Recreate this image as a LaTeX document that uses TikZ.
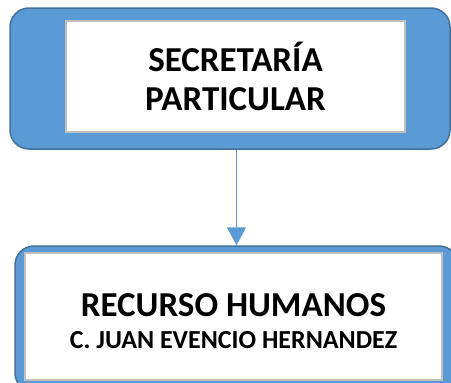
\documentclass[tikz,border=0pt]{standalone}
\usepackage{fontspec}
\setmainfont{Carlito}
\usetikzlibrary{arrows.meta}
\definecolor{boxblue}{HTML}{5B9BD5}
\definecolor{edgeblue}{HTML}{41719C}
\definecolor{framegray}{HTML}{BFBFBF}
\tikzset{
  outerbox/.style={draw=edgeblue, fill=boxblue, line width=1.5pt, rounded corners=19pt, inner sep=0pt},
  innerbox/.style={draw=framegray, fill=white, line width=2.5pt, inner sep=0pt, align=center}
}
\begin{document}
\begin{tikzpicture}[x=1pt,y=-1pt]
  \useasboundingbox (0,0) rectangle (451,383);
  \clip (0,0) rectangle (451,383);

  % Secretaria particular
  \node[outerbox, minimum width=440pt, minimum height=141pt] (sec) at (230,78.5) {};
  \node[innerbox, minimum width=339pt, minimum height=111pt,
    font=\bfseries\fontsize{35}{39}\selectfont] (secin) at (235.5,76.5)
    {SECRETARÍA\\PARTICULAR};

  % Recurso humanos
  \node[outerbox, minimum width=443pt, minimum height=146pt] (rh) at (236.5,319) {};
  \node[innerbox, minimum width=417pt, minimum height=127pt,
    font=\bfseries\fontsize{26}{32}\selectfont] (rhin) at (233.5,316.5)
    {{\fontsize{35}{39}\selectfont\rule{0pt}{33pt}RECURSO HUMANOS}\\C. JUAN EVENCIO HERNANDEZ};

  \draw[boxblue, line width=1.6pt, -{Triangle[width=19pt,length=18pt]}] (rh.north |- sec.south) -- (rh.north);
\end{tikzpicture}
\end{document}
